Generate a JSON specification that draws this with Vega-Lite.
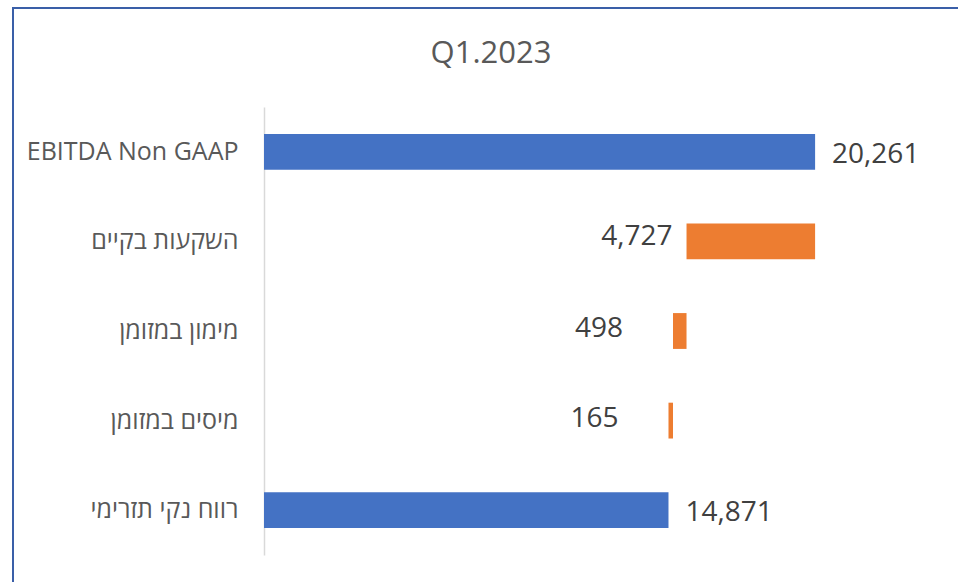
{
  "$schema": "https://vega.github.io/schema/vega-lite/v6.json",
  "autosize": {"type": "none"},
  "padding": {"left": 13, "top": 8, "right": 0, "bottom": 0},
  "width": 956,
  "height": 600,
  "background": "white",
  "title": {
    "text": "Q1.2023",
    "orient": "top",
    "anchor": "middle",
    "offset": -86,
    "baseline": "alphabetic",
    "font": "Open Sans",
    "fontSize": 31,
    "fontWeight": "normal",
    "color": "#595959"
  },
  "config": {
    "view": {"stroke": "#3a5fa8", "strokeWidth": 2},
    "font": "Open Sans"
  },
  "data": {
    "values": [
      {"category": "EBITDA Non GAAP", "start": 0, "end": 20261, "value": 20261, "kind": "total"},
      {"category": "השקעות בקיים", "start": 15534, "end": 20261, "value": 4727, "kind": "decrease"},
      {"category": "מימון במזומן", "start": 15036, "end": 15534, "value": 498, "kind": "decrease"},
      {"category": "מיסים במזומן", "start": 14871, "end": 15036, "value": 165, "kind": "decrease"},
      {"category": "רווח נקי תזרימי", "start": 0, "end": 14871, "value": 14871, "kind": "total"}
    ]
  },
  "encoding": {
    "y": {
      "field": "category",
      "type": "nominal",
      "sort": null,
      "scale": {"range": [99, 547], "paddingInner": 0.6, "paddingOuter": 0.3},
      "axis": {
        "title": null,
        "offset": -251,
        "ticks": false,
        "labelPadding": 26,
        "labelFontSize": 25,
        "labelColor": "#595959",
        "labelFont": "Open Sans",
        "domainColor": "#d9d9d9",
        "domainWidth": 1.5,
        "grid": false,
        "labelLimit": 400
      }
    }
  },
  "layer": [
    {
      "mark": {"type": "bar"},
      "encoding": {
        "x": {"field": "start", "type": "quantitative", "scale": {"domain": [0, 25000], "range": [251, 931], "nice": false, "zero": false}, "axis": null},
        "x2": {"field": "end"},
        "color": {"field": "kind", "type": "nominal", "scale": {"domain": ["total", "decrease"], "range": ["#4472c4", "#ed7d31"]}, "legend": null}
      }
    },
    {
      "transform": [{"filter": "datum.kind === 'total'"}],
      "mark": {"type": "text", "align": "left", "baseline": "middle", "dx": 17, "dy": 3, "fontSize": 28, "color": "#404040", "font": "Open Sans"},
      "encoding": {
        "x": {"field": "end", "type": "quantitative"},
        "text": {"field": "value", "type": "quantitative", "format": ","}
      }
    },
    {
      "transform": [{"filter": "datum.value === 4727"}],
      "mark": {"type": "text", "align": "right", "baseline": "middle", "dx": -14, "dy": -4, "fontSize": 28, "color": "#404040", "font": "Open Sans"},
      "encoding": {
        "x": {"field": "start", "type": "quantitative"},
        "text": {"field": "value", "type": "quantitative", "format": ","}
      }
    },
    {
      "transform": [{"filter": "datum.kind === 'decrease' && datum.value < 1000"}],
      "mark": {"type": "text", "align": "right", "baseline": "middle", "dx": -50, "dy": -2, "fontSize": 28, "color": "#404040", "font": "Open Sans"},
      "encoding": {
        "x": {"field": "start", "type": "quantitative"},
        "text": {"field": "value", "type": "quantitative", "format": ","}
      }
    }
  ]
}
